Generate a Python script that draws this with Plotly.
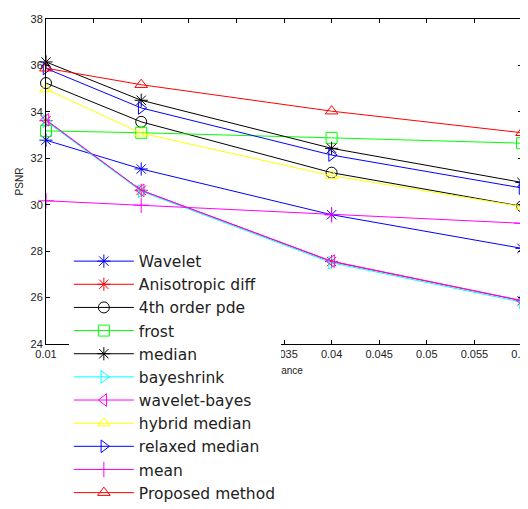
import plotly.graph_objects as go

noise_variance = [0.01, 0.02, 0.04, 0.06]

wavelet = [32.78, 31.54, 29.57, 28.12]
anisotropic_diff = [33.62, 30.62, 27.55, 25.86]
fourth_order_pde = [35.24, 33.57, 31.38, 29.93]
frost = [33.18, 33.10, 32.88, 32.65]
median = [36.15, 34.50, 32.43, 30.96]
bayeshrink = [33.60, 30.58, 27.50, 25.80]
wavelet_bayes = [33.66, 30.62, 27.57, 25.87]
hybrid_median = [34.98, 33.08, 31.25, 29.92]
relaxed_median = [35.87, 34.17, 32.14, 30.72]
mean = [30.17, 29.98, 29.57, 29.20]
proposed = [35.88, 35.17, 34.03, 33.10]

series = [
    ("Wavelet", wavelet, "#0000FF", "asterisk-open"),
    ("Anisotropic diff", anisotropic_diff, "#FF0000", "asterisk-open"),
    ("4th order pde", fourth_order_pde, "#000000", "circle-open"),
    ("frost", frost, "#00FF00", "square-open"),
    ("median", median, "#000000", "asterisk-open"),
    ("bayeshrink", bayeshrink, "#00FFFF", "triangle-right-open"),
    ("wavelet-bayes", wavelet_bayes, "#FF00FF", "triangle-left-open"),
    ("hybrid median", hybrid_median, "#FFFF00", "triangle-up-open"),
    ("relaxed median", relaxed_median, "#0000FF", "triangle-right-open"),
    ("mean", mean, "#FF00FF", "cross-thin-open"),
    ("Proposed method", proposed, "#FF0000", "triangle-up-open"),
]

fig = go.Figure()
for name, vals, color, sym in series:
    fig.add_trace(go.Scatter(
        x=noise_variance, y=vals, name=name, mode="lines+markers",
        line=dict(color=color, width=1),
        marker=dict(symbol=sym, size=11, color=color, line=dict(color=color, width=1)),
        cliponaxis=False,
    ))

axis_common = dict(
    showline=True, linecolor="black", linewidth=1, mirror="ticks",
    ticks="inside", ticklen=4, tickcolor="black", showgrid=False, zeroline=False,
    tickfont=dict(family="Liberation Sans, Arial", size=11, color="#222"),
)

# x-axis title drawn as a shape label (beneath the legend, as in the reference)
fig.add_shape(
    type="line", xref="paper", yref="paper", x0=0.3, x1=0.7, y0=-0.077, y1=-0.077,
    line=dict(color="rgba(0,0,0,0)", width=0), layer="below",
    label=dict(text="variance", textposition="middle", yanchor="middle",
               font=dict(family="Liberation Sans, Arial", size=10, color="#222")),
)

fig.update_layout(
    width=528, height=509,
    margin=dict(l=38, r=14, t=11, b=173, autoexpand=False),
    paper_bgcolor="white", plot_bgcolor="white",
    xaxis=dict(range=[0.01, 0.06], dtick=0.005, tick0=0.01, automargin=False,
               **axis_common),
    yaxis=dict(range=[24, 38], dtick=2, automargin=False,
               title=dict(text="PSNR", font=dict(family="Liberation Sans, Arial", size=10, color="#222"), standoff=5),
               **axis_common),
    legend=dict(x=0.048, y=0.306, xanchor="left", yanchor="top",
                bgcolor="white", borderwidth=0,
                font=dict(family="DejaVu Sans", size=15.5, color="#222"),
                itemwidth=60, tracegroupgap=0),
    showlegend=True,
)

fig.write_html("out.html")
